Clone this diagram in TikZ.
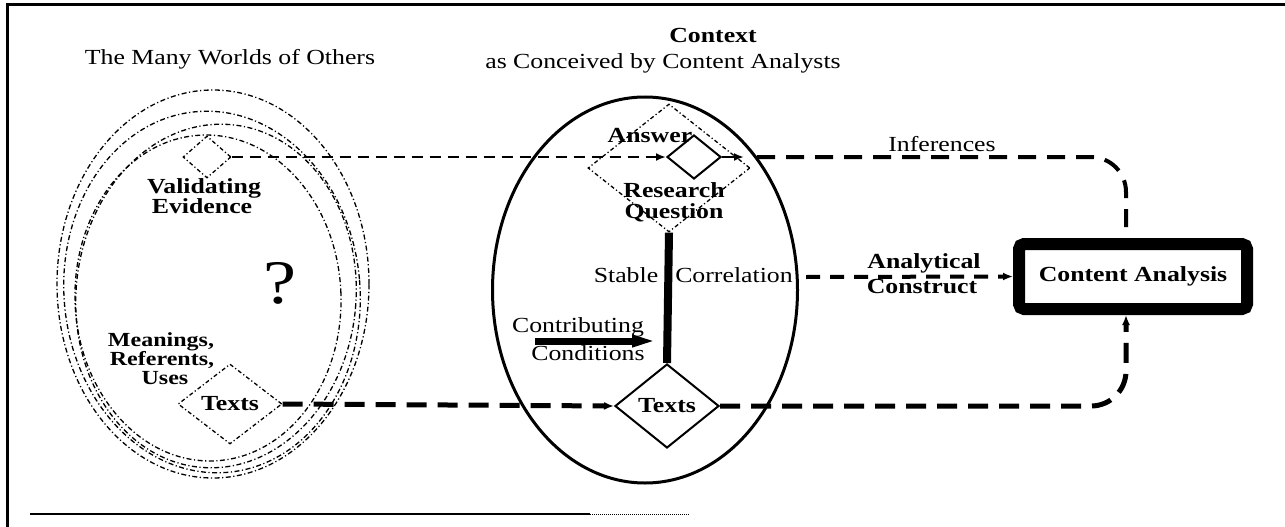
\documentclass[tikz,border=0pt]{standalone}
\usepackage{fontspec}
\setmainfont{Liberation Serif}[FakeStretch=1.2]
\usetikzlibrary{shapes.geometric,arrows.meta}
\begin{document}
\begin{tikzpicture}[x=1pt,y=-1pt,
  txt/.style={inner sep=0pt, anchor=base, font=\fontsize{21.5}{24}\selectfont},
  btxt/.style={inner sep=0pt, anchor=base, font=\fontsize{21.5}{24}\selectfont\bfseries},
  sbtxt/.style={inner sep=0pt, anchor=base, font=\fontsize{20}{22}\selectfont\bfseries},
  world/.style={draw, ellipse, line width=1.3pt, dash pattern=on 5pt off 2.5pt on 1.2pt off 2.5pt, inner sep=0pt},
  dotdia/.style={draw, diamond, line width=1.3pt, dash pattern=on 4pt off 2.5pt on 1.2pt off 2.5pt, inner sep=0pt},
  soliddia/.style={draw, diamond, line width=2pt, inner sep=0pt, font=\fontsize{21.5}{24}\selectfont\bfseries},
  thinflow/.style={line width=2pt, dash pattern=on 11pt off 7pt},
  thickflow/.style={line width=5pt, dash pattern=on 20pt off 11pt},
  infflow/.style={line width=4pt, dash pattern=on 18pt off 11pt, rounded corners=35pt},
  acflow/.style={line width=4pt, dash pattern=on 14pt off 10pt},
  tipA/.style={-{Latex[length=10pt,width=8pt]}}
]
\useasboundingbox (0,0) rectangle (1285,527);
% frame
\draw[line width=3pt] (7,527) -- (7,5) -- (1285,5);
\draw[line width=2pt] (30,514) -- (590,514);
\draw[line width=1pt, densely dotted] (590,514) -- (690,514);

% titles
\node[txt] (tmany) at (230,65) {The Many Worlds of Others};
\node[btxt] (tctx) at (713,43) {Context};
\node[txt] (tconc) at (663,68) {as Conceived by Content Analysts};

% many worlds
\node[world, minimum width=312pt, minimum height=388pt] (e1) at (213,284) {};
\node[world, minimum width=296pt, minimum height=362pt, rotate=5] (e2) at (212,292) {};
\node[world, minimum width=280pt, minimum height=344pt, rotate=-5] (e3) at (216,296) {};
\node[world, minimum width=266pt, minimum height=326pt, rotate=2] (e4) at (208,298) {};

\node[dotdia, minimum width=48pt, minimum height=42pt] (vd) at (207,157) {};
\node[btxt] (tval) at (204,193) {Validating};
\node[btxt] (tevi) at (202,213) {Evidence};
\node[inner sep=0pt, anchor=base, font=\fontsize{62}{64}\selectfont] (tq) at (280,303) {?};
\node[sbtxt] (tmean) at (161,346) {Meanings,};
\node[sbtxt] (tref) at (162,365) {Referents,};
\node[sbtxt] (tuses) at (165,384) {Uses};
\node[dotdia, minimum width=104pt, minimum height=80pt, font=\fontsize{21.5}{24}\selectfont\bfseries] (tl) at (230,404) {Texts};

% context
\node[draw, ellipse, line width=3pt, minimum width=305pt, minimum height=386pt, inner sep=0pt] (ctx) at (645,290) {};
\node[dotdia, minimum width=162pt, minimum height=128pt] (rq) at (669,168) {};
\node[soliddia, minimum width=54pt, minimum height=44pt] (ad) at (694,157) {};
\node[btxt] (tans) at (650,142) {Answer};
\node[btxt] (tres) at (674,197) {Research};
\node[btxt] (tques) at (674,218) {Question};
\node[soliddia, minimum width=104pt, minimum height=84pt] (td) at (667,406) {Texts};
\draw[line width=8pt] (rq.south) -- (td.north);
\node[txt] (tstab) at (626,282) {Stable};
\node[txt] (tcorr) at (734,282) {Correlation};
\node[txt] (tcontr) at (578,332) {Contributing};
\node[txt] (tcond) at (588,360) {Conditions};
\coordinate (ccStart) at (535,341);
\coordinate (ccEnd) at (664,341);
\draw[line width=7pt, -{Triangle[length=32pt,width=10pt]}] (ccStart) -- (ccEnd);

% content analysis
\node[draw, line width=12pt, rounded corners=5pt, minimum width=228pt, minimum height=65pt, inner sep=0pt,
      font=\fontsize{21.5}{24}\selectfont\bfseries] (ca) at (1133,276.5) {Content Analysis};
\coordinate (caTop) at (1126,238);
\coordinate (caBot) at (1126,315);
\coordinate (ansOut) at (744,157);
\coordinate (infStart) at (757,157);
\coordinate (acStart) at (806,277);

% connectors
\draw[thinflow, tipA] (vd.east) -- (ad.west);
\draw[line width=2pt, tipA] (ad.east) -- (ansOut);
\draw[infflow] (infStart) -| (caTop);
\node[txt] (tinf) at (942,151) {Inferences};
\draw[thickflow, tipA] (tl.east) -- (td.west);
\draw[thickflow, rounded corners=35pt, tipA] (td.east) -| (caBot);
\draw[acflow, tipA] (acStart) -- (ca.west);
\node[btxt] (tanal) at (924,268) {Analytical};
\node[btxt] (tcons) at (922,293) {Construct};
\end{tikzpicture}
\end{document}
